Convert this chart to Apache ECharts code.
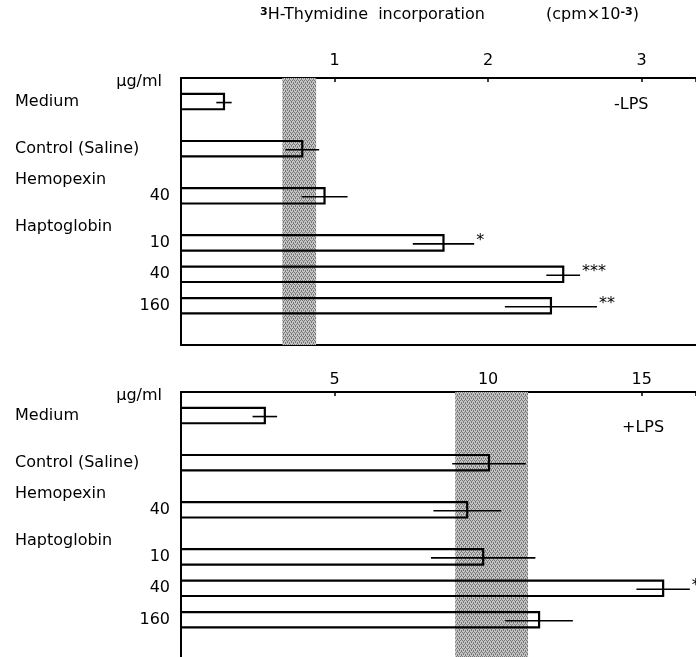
<!DOCTYPE html>
<html>
<head>
<meta charset="utf-8">
<script src="https://cdn.jsdelivr.net/npm/echarts@6/dist/echarts.min.js"></script>
<style>
  html, body { margin: 0; padding: 0; background: #fff; }
  #chart { width: 696px; height: 657px; }
</style>
</head>
<body>
<div id="chart"></div>
<script>
// row slots down each panel (17 slots, top to bottom)
const groupLabels = ['', 'Medium', '', '', 'Control (Saline)', '', 'Hemopexin', '', '',
  'Haptoglobin', '', '', '', '', '', '', ''];
const doseLabels = ['μg/ml', '', '', '', '', '', '', '40', '', '', '10', '', '40', '', '160', '', ''];
const barRows = [1, 4, 7, 10, 12, 14];

// -LPS panel, cpm x 10^-3
const minusLpsMean = [0.28, 0.79, 0.935, 1.71, 2.49, 2.41];
const minusLpsErr = [0.05, 0.11, 0.15, 0.2, 0.11, 0.3];
const minusLpsSig = ['', '', '', '*', '***', '**'];
const minusLpsBand = [0.66, 0.88];
const minusLpsTicks = [1, 2, 3];

// +LPS panel
const plusLpsMean = [2.73, 10.03, 9.32, 9.84, 15.7, 11.66];
const plusLpsErr = [0.4, 1.2, 1.1, 1.7, 0.87, 1.1];
const plusLpsSig = ['', '', '', '', '**', ''];
const plusLpsBand = [8.93, 11.3];
const plusLpsTicks = [5, 10, 15];

const FONT = 'DejaVu Sans';
const slotIds = groupLabels.map((_, i) => 's' + i);

// stippled grey for the reference band
function stipple() {
  const c = document.createElement('canvas');
  c.width = 4; c.height = 4;
  const ctx = c.getContext('2d');
  ctx.fillStyle = '#c4c4c4';
  ctx.fillRect(0, 0, 4, 4);
  ctx.fillStyle = '#777';
  [[0, 0], [2, 0], [1, 2], [3, 2], [3, 1], [1, 3]].forEach(p => ctx.fillRect(p[0], p[1], 1, 1));
  return { image: c, repeat: 'repeat' };
}
const bandFill = stipple();

function bandItem(params, api) {
  const a = api.coord([api.value(0), 0]);
  const b = api.coord([api.value(1), 0]);
  const cs = params.coordSys;
  return {
    type: 'rect',
    shape: { x: a[0], y: cs.y, width: b[0] - a[0], height: cs.height },
    style: { fill: bandFill }
  };
}

function barItem(sigs) {
  return function (params, api) {
    const row = api.value(0), mean = api.value(1), err = api.value(2);
    const base = api.coord([0, row]);
    const end = api.coord([mean, row]);
    const lo = api.coord([mean - err, row]);
    const hi = api.coord([mean + err, row]);
    const half = api.size([0, 1])[1] * 0.49;
    const yc = base[1];
    const kids = [
      {
        type: 'polyline',
        shape: { points: [[base[0], yc - half], [end[0], yc - half], [end[0], yc + half], [base[0], yc + half]] },
        style: { stroke: '#000', lineWidth: 2.2, fill: null }
      },
      {
        type: 'line',
        shape: { x1: lo[0], y1: yc + 1, x2: hi[0], y2: yc + 1 },
        style: { stroke: '#000', lineWidth: 1.6 }
      }
    ];
    const s = sigs[params.dataIndex];
    if (s) {
      kids.push({
        type: 'text', x: hi[0] + 2, y: yc - 2,
        style: { text: s, fill: '#000', font: '16px ' + FONT, textAlign: 'left', textVerticalAlign: 'middle' }
      });
    }
    return { type: 'group', children: kids };
  };
}

function rows(mean, err) {
  return barRows.map((r, i) => [r, mean[i], err[i]]);
}

function yAxes(g) {
  return [
    {
      type: 'category', gridIndex: g, data: slotIds, inverse: true, position: 'left',
      axisLine: { show: true, lineStyle: { color: '#000', width: 2 } },
      axisTick: { show: false },
      axisLabel: {
        interval: 0, margin: 11, color: '#000', fontFamily: FONT, fontSize: 16,
        formatter: (v, i) => i === 0 ? '{u|' + doseLabels[i] + '}' : doseLabels[i],
        rich: { u: { fontFamily: FONT, fontSize: 16, color: '#000', padding: [0, 8, 8, 0] } }
      },
      splitLine: { show: false }
    },
    {
      type: 'category', gridIndex: g, data: slotIds, inverse: true, position: 'left',
      axisLine: { show: false }, axisTick: { show: false },
      axisLabel: {
        interval: 0, margin: 166, align: 'left', color: '#000', fontFamily: FONT, fontSize: 16,
        formatter: (v, i) => groupLabels[i]
      },
      splitLine: { show: false }
    }
  ];
}

function topAxis(g, max, step, ticks, margin) {
  return {
    type: 'value', gridIndex: g, position: 'top', min: 0, max: max, interval: step,
    axisLine: { show: true, onZero: false, lineStyle: { color: '#000', width: 2 } },
    axisTick: { show: true, inside: true, length: 4, lineStyle: { color: '#000', width: 1.5 } },
    axisLabel: {
      margin: margin, color: '#000', fontFamily: FONT, fontSize: 16,
      formatter: v => ticks.indexOf(v) >= 0 ? String(v) : ''
    },
    splitLine: { show: false }
  };
}

const supStyle = { fontSize: 11, fontWeight: 'bold', verticalAlign: 'top', fontFamily: FONT };

const chart = echarts.init(document.getElementById('chart'), null, { renderer: 'canvas' });
chart.setOption({
  animation: false,
  backgroundColor: '#fff',
  grid: [
    { left: 181, top: 78, width: 515, height: 267, containLabel: false, outerBoundsMode: 'none' },
    { left: 181, top: 392, width: 515, height: 267, containLabel: false, outerBoundsMode: 'none' }
  ],
  xAxis: [
    topAxis(0, 3.355, 1, minusLpsTicks, 9),
    {
      type: 'value', gridIndex: 0, position: 'bottom', min: 0, max: 3.355,
      axisLine: { show: true, onZero: false, lineStyle: { color: '#000', width: 2 } },
      axisTick: { show: false }, axisLabel: { show: false }, splitLine: { show: false }
    },
    topAxis(1, 16.77, 5, plusLpsTicks, 4)
  ],
  yAxis: yAxes(0).concat(yAxes(1)),
  graphic: [
    {
      type: 'text', left: 260, top: 7,
      style: { text: '{s|3}H-Thymidine  incorporation', fill: '#000', font: '16px ' + FONT, rich: { s: supStyle } }
    },
    {
      type: 'text', left: 546, top: 7,
      style: { text: '(cpm×10{s|-3})', fill: '#000', font: '16px ' + FONT, rich: { s: supStyle } }
    },
    { type: 'text', left: 614, top: 97, style: { text: '-LPS', fill: '#000', font: '16px ' + FONT } },
    { type: 'text', left: 622, top: 420, style: { text: '+LPS', fill: '#000', font: '16px ' + FONT } }
  ],
  series: [
    {
      type: 'custom', xAxisIndex: 0, yAxisIndex: 0, silent: true,
      renderItem: bandItem, encode: { x: [0, 1] }, data: [minusLpsBand], z: 1
    },
    {
      type: 'custom', xAxisIndex: 0, yAxisIndex: 0, silent: true,
      renderItem: barItem(minusLpsSig), encode: { x: 1, y: 0 },
      data: rows(minusLpsMean, minusLpsErr), z: 2
    },
    {
      type: 'custom', xAxisIndex: 2, yAxisIndex: 2, silent: true,
      renderItem: bandItem, encode: { x: [0, 1] }, data: [plusLpsBand], z: 1
    },
    {
      type: 'custom', xAxisIndex: 2, yAxisIndex: 2, silent: true, clip: false,
      renderItem: barItem(plusLpsSig), encode: { x: 1, y: 0 },
      data: rows(plusLpsMean, plusLpsErr), z: 2
    }
  ]
});
</script>
</body>
</html>
